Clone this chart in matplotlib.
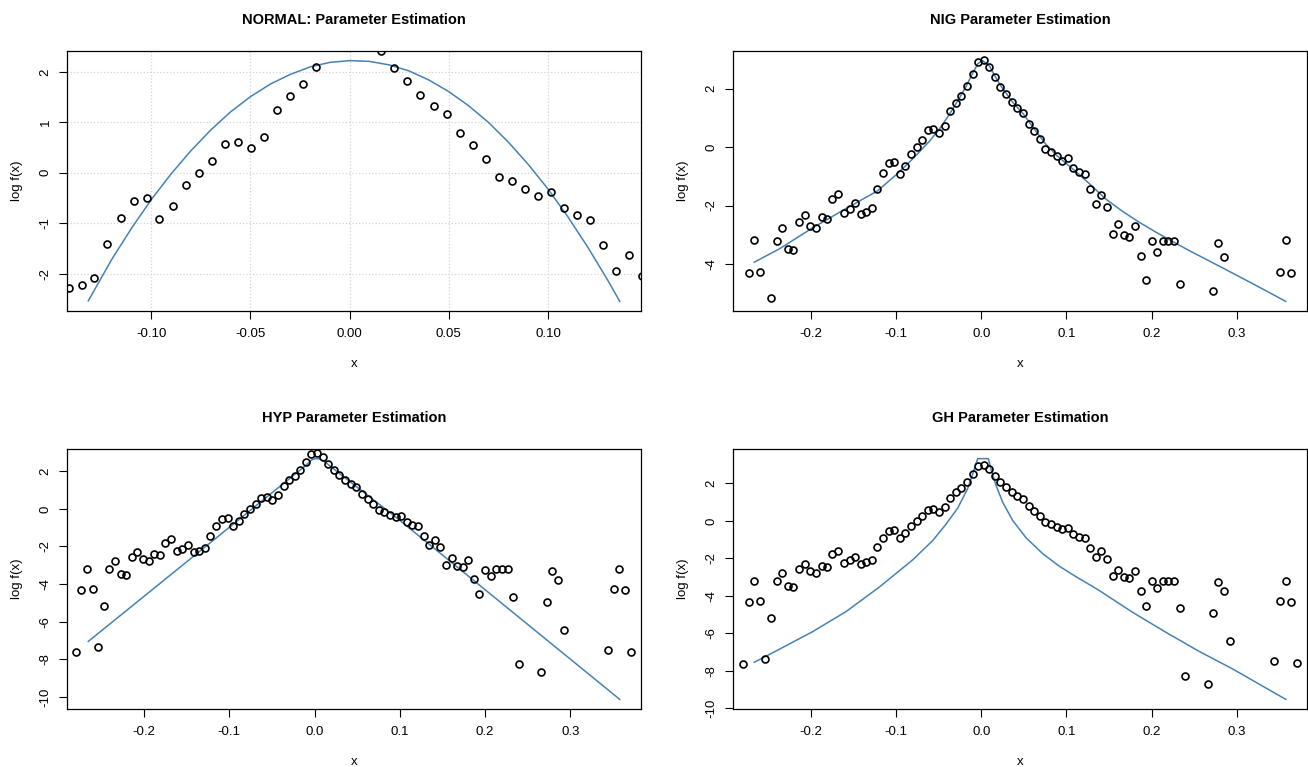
import matplotlib
matplotlib.use("Agg")
import matplotlib.pyplot as plt

plt.rcParams["font.family"] = ["Liberation Sans", "DejaVu Sans"]

# histogram points (same data in all four panels)
pts_x = [-0.2795, -0.2735, -0.2668, -0.2602, -0.2537, -0.2473, -0.2406, -0.2339, -0.2273, -0.2207,
         -0.2144, -0.2077, -0.2011, -0.1945, -0.1878, -0.1811, -0.1749, -0.1682, -0.1616, -0.1549,
         -0.1483, -0.1417, -0.1350, -0.1288, -0.1221, -0.1154, -0.1088, -0.1021, -0.0959, -0.0892,
         -0.0825, -0.0759, -0.0692, -0.0630, -0.0563, -0.0496, -0.0430, -0.0364, -0.0302, -0.0235,
         -0.0168, -0.0102, -0.0039, 0.0027, 0.0094, 0.0158, 0.0223, 0.0290, 0.0356, 0.0423,
         0.0489, 0.0555, 0.0622, 0.0689, 0.0751, 0.0818, 0.0884, 0.0951, 0.1013, 0.1080,
         0.1147, 0.1213, 0.1279, 0.1342, 0.1408, 0.1475, 0.1541, 0.1608, 0.1670, 0.1737,
         0.1804, 0.1870, 0.1933, 0.1999, 0.2066, 0.2132, 0.2198, 0.2265, 0.2328, 0.2395,
         0.2657, 0.2723, 0.2786, 0.2856, 0.2923, 0.3443, 0.3509, 0.3576, 0.3642, 0.3708]
pts_y = [-7.63, -4.31, -3.19, -4.26, -7.35, -5.18, -3.20, -2.78, -3.49, -3.51,
         -2.57, -2.31, -2.69, -2.78, -2.39, -2.46, -1.79, -1.62, -2.24, -2.11,
         -1.92, -2.28, -2.22, -2.09, -1.42, -0.89, -0.55, -0.50, -0.92, -0.66,
         -0.25, -0.01, 0.24, 0.57, 0.61, 0.49, 0.72, 1.24, 1.52, 1.76,
         2.09, 2.51, 2.93, 2.98, 2.75, 2.41, 2.07, 1.82, 1.54, 1.33,
         1.16, 0.78, 0.55, 0.28, -0.08, -0.17, -0.32, -0.46, -0.38, -0.70,
         -0.84, -0.93, -1.43, -1.94, -1.63, -2.04, -2.96, -2.62, -3.02, -3.07,
         -2.70, -3.72, -4.54, -3.23, -3.58, -3.21, -3.20, -3.20, -4.67, -8.27,
         -8.70, -4.93, -3.29, -3.77, -6.42, -7.49, -4.26, -3.19, -4.31, -7.61]

# fitted log densities
norm_x = [-0.1318, -0.12, -0.11, -0.10, -0.09, -0.08, -0.07, -0.06, -0.05, -0.04, -0.03, -0.02, -0.01, 0.0,
          0.01, 0.02, 0.03, 0.04, 0.05, 0.06, 0.07, 0.08, 0.09, 0.10, 0.11, 0.12, 0.13, 0.1362]
norm_y = [-2.54, -1.72, -1.10, -0.53, -0.02, 0.44, 0.85, 1.21, 1.51, 1.76, 1.95, 2.10, 2.19, 2.225,
          2.21, 2.14, 2.02, 1.84, 1.61, 1.33, 1.00, 0.61, 0.17, -0.32, -0.87, -1.47, -2.12, -2.55]

nig_x = [-0.2668, -0.2371, -0.1980, -0.1588, -0.1221, -0.1002, -0.0806, -0.0610, -0.0493, -0.0376,
         -0.0258, -0.0180, -0.0102, -0.0040, 0.0015, 0.0094, 0.0156, 0.0223, 0.0290, 0.0356,
         0.0489, 0.0622, 0.0751, 0.0884, 0.1013, 0.1147, 0.1279, 0.1463, 0.1659, 0.1854,
         0.2050, 0.2246, 0.2441, 0.2832, 0.3224, 0.3576]
nig_y = [-3.94, -3.48, -2.76, -2.10, -1.50, -0.95, -0.40, 0.20, 0.62, 1.12,
         1.68, 2.08, 2.53, 2.86, 2.96, 2.78, 2.45, 2.12, 1.85, 1.58,
         1.15, 0.62, 0.12, -0.28, -0.60, -0.93, -1.28, -1.78, -2.20, -2.57,
         -2.91, -3.23, -3.54, -4.13, -4.73, -5.28]

hyp_x = [-0.2654, -0.1345, -0.0563, -0.0094, -0.0035, 0.0010, 0.0062, 0.0120, 0.0168, 0.0297,
         0.0953, 0.2000, 0.3579]
hyp_y = [-7.05, -2.25, 0.62, 2.34, 2.60, 2.67, 2.66, 2.50, 2.33, 1.86,
         -0.44, -4.30, -10.13]

gh_x = [-0.2668, -0.2371, -0.1980, -0.1588, -0.1197, -0.0806, -0.0571, -0.0415, -0.0278, -0.0161,
        -0.0102, -0.0043, 0.0082, 0.0114, 0.0172, 0.0250, 0.0368, 0.0524, 0.0720, 0.0915,
        0.1111, 0.1306, 0.1385, 0.1776, 0.2168, 0.2559, 0.2950, 0.3576]
gh_y = [-7.55, -6.85, -5.91, -4.84, -3.53, -2.08, -1.05, -0.18, 0.68, 1.72,
        2.50, 3.32, 3.32, 2.75, 1.90, 1.00, 0.02, -0.90, -1.75, -2.42,
        -2.98, -3.50, -3.72, -4.88, -5.95, -6.97, -7.90, -9.53]

panels = [
    ("NORMAL: Parameter Estimation", norm_x, norm_y, [-0.10, -0.05, 0.00, 0.05, 0.10], [-2, -1, 0, 1, 2], "%.2f"),
    ("NIG Parameter Estimation", nig_x, nig_y, [-0.2, -0.1, 0.0, 0.1, 0.2, 0.3], [-4, -2, 0, 2], "%.1f"),
    ("HYP Parameter Estimation", hyp_x, hyp_y, [-0.2, -0.1, 0.0, 0.1, 0.2, 0.3], [-10, -8, -6, -4, -2, 0, 2], "%.1f"),
    ("GH Parameter Estimation", gh_x, gh_y, [-0.2, -0.1, 0.0, 0.1, 0.2, 0.3], [-10, -8, -6, -4, -2, 0, 2], "%.1f"),
]

W, H = 1308, 767
fig = plt.figure(figsize=(W / 100, H / 100), dpi=100)

# panel boxes in pixels: left, top, right, bottom
boxes = [(67, 51, 641, 311), (733, 51, 1307, 311), (67, 449, 641, 709), (733, 449, 1307, 709)]

for (title, lx, ly, xt, yt, fmt), (l, t, r, b) in zip(panels, boxes):
    ax = fig.add_axes([l / W, 1 - b / H, (r - l) / W, (b - t) / H])
    ax.plot(lx, ly, color="#4682b4", lw=1.1, zorder=3)
    ax.plot(pts_x, pts_y, "o", mfc="none", mec="black", ms=5, mew=1.2, zorder=4)

    # R style limits: range of the fitted line plus 4 %
    dx = (max(lx) - min(lx)) * 0.04
    dy = (max(ly) - min(ly)) * 0.04
    ax.set_xlim(min(lx) - dx, max(lx) + dx)
    ax.set_ylim(min(ly) - dy, max(ly) + dy)

    ax.set_xticks(xt)
    ax.set_xticklabels([fmt % v for v in xt])
    ax.set_yticks(yt)
    ax.set_yticklabels([str(v) for v in yt], rotation=90, va="center")
    ax.tick_params(length=6, width=0.8, labelsize=9.5, pad=5)
    ax.tick_params(axis="x", pad=6.5)
    for s in ax.spines.values():
        s.set_linewidth(0.9)

    if title.startswith("NORMAL"):
        ax.grid(True, color="lightgray", ls=":", lw=0.9)
        ax.set_axisbelow(True)

    ax.set_title(title, fontsize=10.5, fontweight="bold", y=1 + 31 / (b - t), va="center", pad=0)
    ax.set_xlabel("x", fontsize=9.5)
    ax.xaxis.set_label_coords(0.5, -53 / (b - t))
    ax.xaxis.label.set_va("center")
    ax.set_ylabel("log f(x)", fontsize=9.5)
    ax.yaxis.set_label_coords(-50 / (r - l), 0.5)
    ax.yaxis.label.set_va("center")

fig.savefig("out.png", dpi=100)
